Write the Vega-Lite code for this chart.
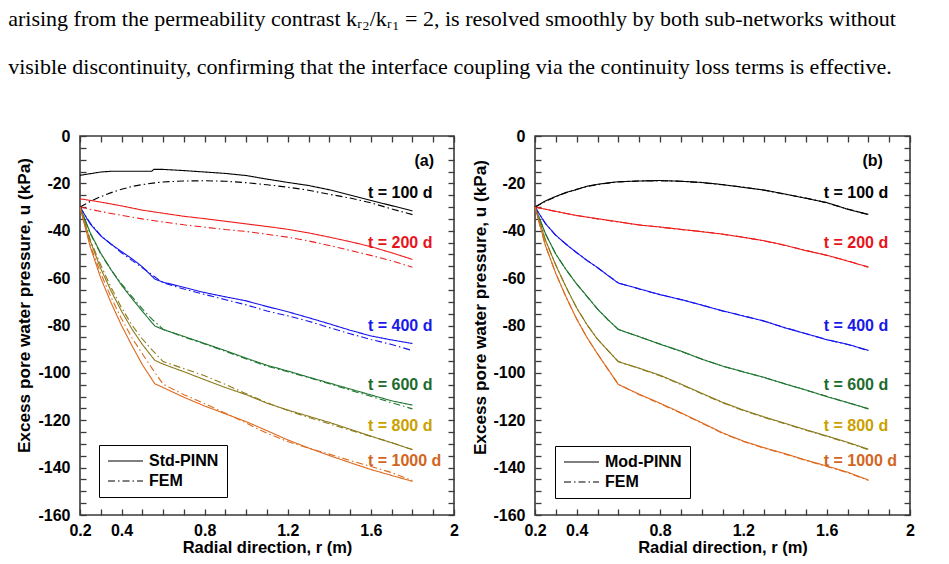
{
"$schema": "https://vega.github.io/schema/vega-lite/v6.json",
"background": "white",
"padding": {"left": 8, "top": 8, "right": 30, "bottom": 6},
"title": {"text": ["arising from the permeability contrast kᵣ₂/kᵣ₁ = 2, is resolved smoothly by both sub-networks without", "visible discontinuity, confirming that the interface coupling via the continuity loss terms is effective."], "anchor": "start", "frame": "bounds", "font": "Liberation Serif", "fontSize": 22, "fontWeight": "normal", "color": "black", "lineHeight": 48, "offset": 48, "dx": -6},
"datasets": {
"labels": [
{"t":"100 d","txt":"t = 100 d","r":1.586,"u":-24.0},
{"t":"200 d","txt":"t = 200 d","r":1.586,"u":-45.0},
{"t":"400 d","txt":"t = 400 d","r":1.586,"u":-80.0},
{"t":"600 d","txt":"t = 600 d","r":1.586,"u":-105.3},
{"t":"800 d","txt":"t = 800 d","r":1.586,"u":-122.4},
{"t":"1000 d","txt":"t = 1000 d","r":1.586,"u":-137.0}
],
"curves": [
{"p":"ab","m":"FEM","t":"100 d","r":0.2,"u":-30},{"p":"ab","m":"FEM","t":"100 d","r":0.25,"u":-27.6},{"p":"ab","m":"FEM","t":"100 d","r":0.3,"u":-25.6},{"p":"ab","m":"FEM","t":"100 d","r":0.35,"u":-23.9},{"p":"ab","m":"FEM","t":"100 d","r":0.4,"u":-22.5},{"p":"ab","m":"FEM","t":"100 d","r":0.45,"u":-21.3},{"p":"ab","m":"FEM","t":"100 d","r":0.5,"u":-20.5},{"p":"ab","m":"FEM","t":"100 d","r":0.55,"u":-19.9},{"p":"ab","m":"FEM","t":"100 d","r":0.6,"u":-19.4},{"p":"ab","m":"FEM","t":"100 d","r":0.7,"u":-19.0},{"p":"ab","m":"FEM","t":"100 d","r":0.8,"u":-18.9},{"p":"ab","m":"FEM","t":"100 d","r":0.9,"u":-19.1},{"p":"ab","m":"FEM","t":"100 d","r":1.0,"u":-19.7},{"p":"ab","m":"FEM","t":"100 d","r":1.1,"u":-20.6},{"p":"ab","m":"FEM","t":"100 d","r":1.2,"u":-21.6},{"p":"ab","m":"FEM","t":"100 d","r":1.3,"u":-22.9},{"p":"ab","m":"FEM","t":"100 d","r":1.4,"u":-24.6},{"p":"ab","m":"FEM","t":"100 d","r":1.5,"u":-26.2},{"p":"ab","m":"FEM","t":"100 d","r":1.6,"u":-28.2},{"p":"ab","m":"FEM","t":"100 d","r":1.7,"u":-30.8},{"p":"ab","m":"FEM","t":"100 d","r":1.8,"u":-33.2},
{"p":"ab","m":"FEM","t":"200 d","r":0.2,"u":-30},{"p":"ab","m":"FEM","t":"200 d","r":0.3,"u":-31.9},{"p":"ab","m":"FEM","t":"200 d","r":0.4,"u":-33.5},{"p":"ab","m":"FEM","t":"200 d","r":0.5,"u":-35.0},{"p":"ab","m":"FEM","t":"200 d","r":0.6,"u":-36.3},{"p":"ab","m":"FEM","t":"200 d","r":0.7,"u":-37.5},{"p":"ab","m":"FEM","t":"200 d","r":0.8,"u":-38.5},{"p":"ab","m":"FEM","t":"200 d","r":0.9,"u":-39.5},{"p":"ab","m":"FEM","t":"200 d","r":1.0,"u":-40.3},{"p":"ab","m":"FEM","t":"200 d","r":1.1,"u":-41.5},{"p":"ab","m":"FEM","t":"200 d","r":1.2,"u":-42.7},{"p":"ab","m":"FEM","t":"200 d","r":1.3,"u":-44.3},{"p":"ab","m":"FEM","t":"200 d","r":1.4,"u":-46.2},{"p":"ab","m":"FEM","t":"200 d","r":1.5,"u":-48.3},{"p":"ab","m":"FEM","t":"200 d","r":1.6,"u":-50.4},{"p":"ab","m":"FEM","t":"200 d","r":1.7,"u":-52.7},{"p":"ab","m":"FEM","t":"200 d","r":1.8,"u":-55.4},
{"p":"ab","m":"FEM","t":"400 d","r":0.2,"u":-30},{"p":"ab","m":"FEM","t":"400 d","r":0.25,"u":-36.9},{"p":"ab","m":"FEM","t":"400 d","r":0.3,"u":-42.0},{"p":"ab","m":"FEM","t":"400 d","r":0.35,"u":-45.7},{"p":"ab","m":"FEM","t":"400 d","r":0.4,"u":-49.3},{"p":"ab","m":"FEM","t":"400 d","r":0.45,"u":-52.5},{"p":"ab","m":"FEM","t":"400 d","r":0.5,"u":-55.6},{"p":"ab","m":"FEM","t":"400 d","r":0.55,"u":-58.8},{"p":"ab","m":"FEM","t":"400 d","r":0.6,"u":-62.0},{"p":"ab","m":"FEM","t":"400 d","r":0.7,"u":-64.6},{"p":"ab","m":"FEM","t":"400 d","r":0.8,"u":-66.9},{"p":"ab","m":"FEM","t":"400 d","r":0.9,"u":-69.1},{"p":"ab","m":"FEM","t":"400 d","r":1.0,"u":-71.3},{"p":"ab","m":"FEM","t":"400 d","r":1.1,"u":-73.9},{"p":"ab","m":"FEM","t":"400 d","r":1.2,"u":-75.9},{"p":"ab","m":"FEM","t":"400 d","r":1.3,"u":-78.2},{"p":"ab","m":"FEM","t":"400 d","r":1.4,"u":-80.9},{"p":"ab","m":"FEM","t":"400 d","r":1.5,"u":-83.5},{"p":"ab","m":"FEM","t":"400 d","r":1.6,"u":-85.9},{"p":"ab","m":"FEM","t":"400 d","r":1.7,"u":-88.0},{"p":"ab","m":"FEM","t":"400 d","r":1.8,"u":-90.6},
{"p":"ab","m":"FEM","t":"600 d","r":0.2,"u":-30},{"p":"ab","m":"FEM","t":"600 d","r":0.25,"u":-41.3},{"p":"ab","m":"FEM","t":"600 d","r":0.3,"u":-49.8},{"p":"ab","m":"FEM","t":"600 d","r":0.35,"u":-56.6},{"p":"ab","m":"FEM","t":"600 d","r":0.4,"u":-62.4},{"p":"ab","m":"FEM","t":"600 d","r":0.45,"u":-67.8},{"p":"ab","m":"FEM","t":"600 d","r":0.5,"u":-73.0},{"p":"ab","m":"FEM","t":"600 d","r":0.55,"u":-77.6},{"p":"ab","m":"FEM","t":"600 d","r":0.6,"u":-81.6},{"p":"ab","m":"FEM","t":"600 d","r":0.7,"u":-84.8},{"p":"ab","m":"FEM","t":"600 d","r":0.8,"u":-87.8},{"p":"ab","m":"FEM","t":"600 d","r":0.9,"u":-90.9},{"p":"ab","m":"FEM","t":"600 d","r":1.0,"u":-94.1},{"p":"ab","m":"FEM","t":"600 d","r":1.1,"u":-97.2},{"p":"ab","m":"FEM","t":"600 d","r":1.2,"u":-99.5},{"p":"ab","m":"FEM","t":"600 d","r":1.3,"u":-102.0},{"p":"ab","m":"FEM","t":"600 d","r":1.4,"u":-104.6},{"p":"ab","m":"FEM","t":"600 d","r":1.5,"u":-107.3},{"p":"ab","m":"FEM","t":"600 d","r":1.6,"u":-109.9},{"p":"ab","m":"FEM","t":"600 d","r":1.7,"u":-112.6},{"p":"ab","m":"FEM","t":"600 d","r":1.8,"u":-115.2},
{"p":"ab","m":"FEM","t":"800 d","r":0.2,"u":-30},{"p":"ab","m":"FEM","t":"800 d","r":0.25,"u":-44.0},{"p":"ab","m":"FEM","t":"800 d","r":0.3,"u":-54.5},{"p":"ab","m":"FEM","t":"800 d","r":0.35,"u":-64.0},{"p":"ab","m":"FEM","t":"800 d","r":0.4,"u":-72.5},{"p":"ab","m":"FEM","t":"800 d","r":0.45,"u":-79.8},{"p":"ab","m":"FEM","t":"800 d","r":0.5,"u":-85.7},{"p":"ab","m":"FEM","t":"800 d","r":0.55,"u":-90.6},{"p":"ab","m":"FEM","t":"800 d","r":0.6,"u":-95.2},{"p":"ab","m":"FEM","t":"800 d","r":0.7,"u":-98.2},{"p":"ab","m":"FEM","t":"800 d","r":0.8,"u":-101.2},{"p":"ab","m":"FEM","t":"800 d","r":0.9,"u":-104.9},{"p":"ab","m":"FEM","t":"800 d","r":1.0,"u":-108.8},{"p":"ab","m":"FEM","t":"800 d","r":1.1,"u":-112.6},{"p":"ab","m":"FEM","t":"800 d","r":1.2,"u":-115.9},{"p":"ab","m":"FEM","t":"800 d","r":1.3,"u":-118.8},{"p":"ab","m":"FEM","t":"800 d","r":1.4,"u":-121.5},{"p":"ab","m":"FEM","t":"800 d","r":1.5,"u":-124.2},{"p":"ab","m":"FEM","t":"800 d","r":1.6,"u":-126.8},{"p":"ab","m":"FEM","t":"800 d","r":1.7,"u":-129.5},{"p":"ab","m":"FEM","t":"800 d","r":1.8,"u":-132.4},
{"p":"ab","m":"FEM","t":"1000 d","r":0.2,"u":-30},{"p":"ab","m":"FEM","t":"1000 d","r":0.25,"u":-46.3},{"p":"ab","m":"FEM","t":"1000 d","r":0.3,"u":-58.0},{"p":"ab","m":"FEM","t":"1000 d","r":0.35,"u":-68.2},{"p":"ab","m":"FEM","t":"1000 d","r":0.4,"u":-77.2},{"p":"ab","m":"FEM","t":"1000 d","r":0.45,"u":-85.2},{"p":"ab","m":"FEM","t":"1000 d","r":0.5,"u":-91.9},{"p":"ab","m":"FEM","t":"1000 d","r":0.55,"u":-98.5},{"p":"ab","m":"FEM","t":"1000 d","r":0.6,"u":-104.8},{"p":"ab","m":"FEM","t":"1000 d","r":0.7,"u":-109.2},{"p":"ab","m":"FEM","t":"1000 d","r":0.8,"u":-113.0},{"p":"ab","m":"FEM","t":"1000 d","r":0.9,"u":-117.0},{"p":"ab","m":"FEM","t":"1000 d","r":1.0,"u":-121.2},{"p":"ab","m":"FEM","t":"1000 d","r":1.1,"u":-125.5},{"p":"ab","m":"FEM","t":"1000 d","r":1.2,"u":-129.0},{"p":"ab","m":"FEM","t":"1000 d","r":1.3,"u":-131.8},{"p":"ab","m":"FEM","t":"1000 d","r":1.4,"u":-134.3},{"p":"ab","m":"FEM","t":"1000 d","r":1.5,"u":-137.0},{"p":"ab","m":"FEM","t":"1000 d","r":1.6,"u":-139.5},{"p":"ab","m":"FEM","t":"1000 d","r":1.7,"u":-142.1},{"p":"ab","m":"FEM","t":"1000 d","r":1.8,"u":-145.4},

{"p":"a","m":"Std-PINN","t":"100 d","r":0.2,"u":-16.6},{"p":"a","m":"Std-PINN","t":"100 d","r":0.25,"u":-15.9},{"p":"a","m":"Std-PINN","t":"100 d","r":0.3,"u":-15.2},{"p":"a","m":"Std-PINN","t":"100 d","r":0.35,"u":-14.9},{"p":"a","m":"Std-PINN","t":"100 d","r":0.4,"u":-14.9},{"p":"a","m":"Std-PINN","t":"100 d","r":0.45,"u":-14.9},{"p":"a","m":"Std-PINN","t":"100 d","r":0.5,"u":-14.9},{"p":"a","m":"Std-PINN","t":"100 d","r":0.545,"u":-14.9},{"p":"a","m":"Std-PINN","t":"100 d","r":0.555,"u":-14.1},{"p":"a","m":"Std-PINN","t":"100 d","r":0.6,"u":-14.1},{"p":"a","m":"Std-PINN","t":"100 d","r":0.7,"u":-14.6},{"p":"a","m":"Std-PINN","t":"100 d","r":0.8,"u":-15.2},{"p":"a","m":"Std-PINN","t":"100 d","r":0.9,"u":-15.8},{"p":"a","m":"Std-PINN","t":"100 d","r":1.0,"u":-16.7},{"p":"a","m":"Std-PINN","t":"100 d","r":1.1,"u":-18.2},{"p":"a","m":"Std-PINN","t":"100 d","r":1.2,"u":-19.6},{"p":"a","m":"Std-PINN","t":"100 d","r":1.3,"u":-20.9},{"p":"a","m":"Std-PINN","t":"100 d","r":1.4,"u":-22.7},{"p":"a","m":"Std-PINN","t":"100 d","r":1.5,"u":-24.9},{"p":"a","m":"Std-PINN","t":"100 d","r":1.6,"u":-27.2},{"p":"a","m":"Std-PINN","t":"100 d","r":1.7,"u":-29.4},{"p":"a","m":"Std-PINN","t":"100 d","r":1.8,"u":-31.6},
{"p":"a","m":"Std-PINN","t":"200 d","r":0.2,"u":-26.5},{"p":"a","m":"Std-PINN","t":"200 d","r":0.3,"u":-27.9},{"p":"a","m":"Std-PINN","t":"200 d","r":0.4,"u":-29.5},{"p":"a","m":"Std-PINN","t":"200 d","r":0.5,"u":-31.3},{"p":"a","m":"Std-PINN","t":"200 d","r":0.6,"u":-32.6},{"p":"a","m":"Std-PINN","t":"200 d","r":0.7,"u":-33.9},{"p":"a","m":"Std-PINN","t":"200 d","r":0.8,"u":-34.9},{"p":"a","m":"Std-PINN","t":"200 d","r":0.9,"u":-36.0},{"p":"a","m":"Std-PINN","t":"200 d","r":1.0,"u":-37.1},{"p":"a","m":"Std-PINN","t":"200 d","r":1.1,"u":-38.2},{"p":"a","m":"Std-PINN","t":"200 d","r":1.2,"u":-39.4},{"p":"a","m":"Std-PINN","t":"200 d","r":1.3,"u":-40.9},{"p":"a","m":"Std-PINN","t":"200 d","r":1.4,"u":-42.7},{"p":"a","m":"Std-PINN","t":"200 d","r":1.5,"u":-44.6},{"p":"a","m":"Std-PINN","t":"200 d","r":1.6,"u":-46.7},{"p":"a","m":"Std-PINN","t":"200 d","r":1.7,"u":-49.3},{"p":"a","m":"Std-PINN","t":"200 d","r":1.8,"u":-52.1},
{"p":"a","m":"Std-PINN","t":"400 d","r":0.2,"u":-30},{"p":"a","m":"Std-PINN","t":"400 d","r":0.25,"u":-37.2},{"p":"a","m":"Std-PINN","t":"400 d","r":0.3,"u":-42.2},{"p":"a","m":"Std-PINN","t":"400 d","r":0.35,"u":-45.7},{"p":"a","m":"Std-PINN","t":"400 d","r":0.4,"u":-48.8},{"p":"a","m":"Std-PINN","t":"400 d","r":0.45,"u":-51.8},{"p":"a","m":"Std-PINN","t":"400 d","r":0.5,"u":-55.2},{"p":"a","m":"Std-PINN","t":"400 d","r":0.56,"u":-60.4},{"p":"a","m":"Std-PINN","t":"400 d","r":0.6,"u":-61.7},{"p":"a","m":"Std-PINN","t":"400 d","r":0.7,"u":-63.9},{"p":"a","m":"Std-PINN","t":"400 d","r":0.8,"u":-66.1},{"p":"a","m":"Std-PINN","t":"400 d","r":0.9,"u":-67.9},{"p":"a","m":"Std-PINN","t":"400 d","r":1.0,"u":-69.6},{"p":"a","m":"Std-PINN","t":"400 d","r":1.1,"u":-72.0},{"p":"a","m":"Std-PINN","t":"400 d","r":1.2,"u":-74.2},{"p":"a","m":"Std-PINN","t":"400 d","r":1.3,"u":-76.7},{"p":"a","m":"Std-PINN","t":"400 d","r":1.4,"u":-79.3},{"p":"a","m":"Std-PINN","t":"400 d","r":1.5,"u":-82.0},{"p":"a","m":"Std-PINN","t":"400 d","r":1.6,"u":-84.4},{"p":"a","m":"Std-PINN","t":"400 d","r":1.7,"u":-86.1},{"p":"a","m":"Std-PINN","t":"400 d","r":1.8,"u":-87.6},
{"p":"a","m":"Std-PINN","t":"600 d","r":0.2,"u":-30},{"p":"a","m":"Std-PINN","t":"600 d","r":0.25,"u":-41.0},{"p":"a","m":"Std-PINN","t":"600 d","r":0.3,"u":-49.5},{"p":"a","m":"Std-PINN","t":"600 d","r":0.35,"u":-56.5},{"p":"a","m":"Std-PINN","t":"600 d","r":0.4,"u":-63.0},{"p":"a","m":"Std-PINN","t":"600 d","r":0.45,"u":-68.6},{"p":"a","m":"Std-PINN","t":"600 d","r":0.5,"u":-74.0},{"p":"a","m":"Std-PINN","t":"600 d","r":0.56,"u":-80.2},{"p":"a","m":"Std-PINN","t":"600 d","r":0.6,"u":-81.7},{"p":"a","m":"Std-PINN","t":"600 d","r":0.7,"u":-84.6},{"p":"a","m":"Std-PINN","t":"600 d","r":0.8,"u":-87.6},{"p":"a","m":"Std-PINN","t":"600 d","r":0.9,"u":-90.6},{"p":"a","m":"Std-PINN","t":"600 d","r":1.0,"u":-93.8},{"p":"a","m":"Std-PINN","t":"600 d","r":1.1,"u":-96.8},{"p":"a","m":"Std-PINN","t":"600 d","r":1.2,"u":-99.2},{"p":"a","m":"Std-PINN","t":"600 d","r":1.3,"u":-101.8},{"p":"a","m":"Std-PINN","t":"600 d","r":1.4,"u":-104.3},{"p":"a","m":"Std-PINN","t":"600 d","r":1.5,"u":-106.8},{"p":"a","m":"Std-PINN","t":"600 d","r":1.6,"u":-109.3},{"p":"a","m":"Std-PINN","t":"600 d","r":1.7,"u":-111.8},{"p":"a","m":"Std-PINN","t":"600 d","r":1.8,"u":-113.6},
{"p":"a","m":"Std-PINN","t":"800 d","r":0.2,"u":-30},{"p":"a","m":"Std-PINN","t":"800 d","r":0.25,"u":-44.5},{"p":"a","m":"Std-PINN","t":"800 d","r":0.3,"u":-56.0},{"p":"a","m":"Std-PINN","t":"800 d","r":0.35,"u":-65.5},{"p":"a","m":"Std-PINN","t":"800 d","r":0.4,"u":-74.0},{"p":"a","m":"Std-PINN","t":"800 d","r":0.45,"u":-81.5},{"p":"a","m":"Std-PINN","t":"800 d","r":0.5,"u":-88.0},{"p":"a","m":"Std-PINN","t":"800 d","r":0.56,"u":-94.7},{"p":"a","m":"Std-PINN","t":"800 d","r":0.6,"u":-96.3},{"p":"a","m":"Std-PINN","t":"800 d","r":0.7,"u":-99.5},{"p":"a","m":"Std-PINN","t":"800 d","r":0.8,"u":-102.9},{"p":"a","m":"Std-PINN","t":"800 d","r":0.9,"u":-106.2},{"p":"a","m":"Std-PINN","t":"800 d","r":1.0,"u":-109.2},{"p":"a","m":"Std-PINN","t":"800 d","r":1.1,"u":-112.8},{"p":"a","m":"Std-PINN","t":"800 d","r":1.2,"u":-115.7},{"p":"a","m":"Std-PINN","t":"800 d","r":1.3,"u":-118.3},{"p":"a","m":"Std-PINN","t":"800 d","r":1.4,"u":-120.9},{"p":"a","m":"Std-PINN","t":"800 d","r":1.5,"u":-123.8},{"p":"a","m":"Std-PINN","t":"800 d","r":1.6,"u":-126.7},{"p":"a","m":"Std-PINN","t":"800 d","r":1.7,"u":-129.5},{"p":"a","m":"Std-PINN","t":"800 d","r":1.8,"u":-132.4},
{"p":"a","m":"Std-PINN","t":"1000 d","r":0.2,"u":-30},{"p":"a","m":"Std-PINN","t":"1000 d","r":0.25,"u":-47.0},{"p":"a","m":"Std-PINN","t":"1000 d","r":0.3,"u":-60.0},{"p":"a","m":"Std-PINN","t":"1000 d","r":0.35,"u":-70.5},{"p":"a","m":"Std-PINN","t":"1000 d","r":0.4,"u":-80.0},{"p":"a","m":"Std-PINN","t":"1000 d","r":0.45,"u":-88.5},{"p":"a","m":"Std-PINN","t":"1000 d","r":0.5,"u":-96.5},{"p":"a","m":"Std-PINN","t":"1000 d","r":0.56,"u":-104.6},{"p":"a","m":"Std-PINN","t":"1000 d","r":0.6,"u":-106.2},{"p":"a","m":"Std-PINN","t":"1000 d","r":0.7,"u":-110.3},{"p":"a","m":"Std-PINN","t":"1000 d","r":0.8,"u":-114.0},{"p":"a","m":"Std-PINN","t":"1000 d","r":0.9,"u":-117.3},{"p":"a","m":"Std-PINN","t":"1000 d","r":1.0,"u":-120.6},{"p":"a","m":"Std-PINN","t":"1000 d","r":1.1,"u":-124.4},{"p":"a","m":"Std-PINN","t":"1000 d","r":1.2,"u":-128.3},{"p":"a","m":"Std-PINN","t":"1000 d","r":1.3,"u":-131.7},{"p":"a","m":"Std-PINN","t":"1000 d","r":1.4,"u":-134.9},{"p":"a","m":"Std-PINN","t":"1000 d","r":1.5,"u":-137.9},{"p":"a","m":"Std-PINN","t":"1000 d","r":1.6,"u":-140.8},{"p":"a","m":"Std-PINN","t":"1000 d","r":1.7,"u":-143.3},{"p":"a","m":"Std-PINN","t":"1000 d","r":1.8,"u":-145.8},

{"p":"b","m":"Mod-PINN","t":"100 d","r":0.2,"u":-30},{"p":"b","m":"Mod-PINN","t":"100 d","r":0.25,"u":-27.4},{"p":"b","m":"Mod-PINN","t":"100 d","r":0.3,"u":-25.5},{"p":"b","m":"Mod-PINN","t":"100 d","r":0.35,"u":-23.8},{"p":"b","m":"Mod-PINN","t":"100 d","r":0.4,"u":-22.6},{"p":"b","m":"Mod-PINN","t":"100 d","r":0.45,"u":-21.2},{"p":"b","m":"Mod-PINN","t":"100 d","r":0.5,"u":-20.4},{"p":"b","m":"Mod-PINN","t":"100 d","r":0.55,"u":-19.8},{"p":"b","m":"Mod-PINN","t":"100 d","r":0.6,"u":-19.3},{"p":"b","m":"Mod-PINN","t":"100 d","r":0.7,"u":-19.0},{"p":"b","m":"Mod-PINN","t":"100 d","r":0.8,"u":-18.8},{"p":"b","m":"Mod-PINN","t":"100 d","r":0.9,"u":-19.1},{"p":"b","m":"Mod-PINN","t":"100 d","r":1.0,"u":-19.6},{"p":"b","m":"Mod-PINN","t":"100 d","r":1.1,"u":-20.5},{"p":"b","m":"Mod-PINN","t":"100 d","r":1.2,"u":-21.7},{"p":"b","m":"Mod-PINN","t":"100 d","r":1.3,"u":-22.8},{"p":"b","m":"Mod-PINN","t":"100 d","r":1.4,"u":-24.5},{"p":"b","m":"Mod-PINN","t":"100 d","r":1.5,"u":-26.3},{"p":"b","m":"Mod-PINN","t":"100 d","r":1.6,"u":-28.1},{"p":"b","m":"Mod-PINN","t":"100 d","r":1.7,"u":-30.9},{"p":"b","m":"Mod-PINN","t":"100 d","r":1.8,"u":-33.1},
{"p":"b","m":"Mod-PINN","t":"200 d","r":0.2,"u":-30},{"p":"b","m":"Mod-PINN","t":"200 d","r":0.3,"u":-31.8},{"p":"b","m":"Mod-PINN","t":"200 d","r":0.4,"u":-33.6},{"p":"b","m":"Mod-PINN","t":"200 d","r":0.5,"u":-34.9},{"p":"b","m":"Mod-PINN","t":"200 d","r":0.6,"u":-36.2},{"p":"b","m":"Mod-PINN","t":"200 d","r":0.7,"u":-37.6},{"p":"b","m":"Mod-PINN","t":"200 d","r":0.8,"u":-38.4},{"p":"b","m":"Mod-PINN","t":"200 d","r":0.9,"u":-39.4},{"p":"b","m":"Mod-PINN","t":"200 d","r":1.0,"u":-40.4},{"p":"b","m":"Mod-PINN","t":"200 d","r":1.1,"u":-41.4},{"p":"b","m":"Mod-PINN","t":"200 d","r":1.2,"u":-42.8},{"p":"b","m":"Mod-PINN","t":"200 d","r":1.3,"u":-44.2},{"p":"b","m":"Mod-PINN","t":"200 d","r":1.4,"u":-46.1},{"p":"b","m":"Mod-PINN","t":"200 d","r":1.5,"u":-48.4},{"p":"b","m":"Mod-PINN","t":"200 d","r":1.6,"u":-50.3},{"p":"b","m":"Mod-PINN","t":"200 d","r":1.7,"u":-52.8},{"p":"b","m":"Mod-PINN","t":"200 d","r":1.8,"u":-55.3},
{"p":"b","m":"Mod-PINN","t":"400 d","r":0.2,"u":-30},{"p":"b","m":"Mod-PINN","t":"400 d","r":0.25,"u":-37.0},{"p":"b","m":"Mod-PINN","t":"400 d","r":0.3,"u":-41.9},{"p":"b","m":"Mod-PINN","t":"400 d","r":0.35,"u":-45.8},{"p":"b","m":"Mod-PINN","t":"400 d","r":0.4,"u":-49.2},{"p":"b","m":"Mod-PINN","t":"400 d","r":0.45,"u":-52.6},{"p":"b","m":"Mod-PINN","t":"400 d","r":0.5,"u":-55.5},{"p":"b","m":"Mod-PINN","t":"400 d","r":0.55,"u":-58.9},{"p":"b","m":"Mod-PINN","t":"400 d","r":0.6,"u":-62.1},{"p":"b","m":"Mod-PINN","t":"400 d","r":0.7,"u":-64.5},{"p":"b","m":"Mod-PINN","t":"400 d","r":0.8,"u":-67.0},{"p":"b","m":"Mod-PINN","t":"400 d","r":0.9,"u":-69.0},{"p":"b","m":"Mod-PINN","t":"400 d","r":1.0,"u":-71.4},{"p":"b","m":"Mod-PINN","t":"400 d","r":1.1,"u":-73.8},{"p":"b","m":"Mod-PINN","t":"400 d","r":1.2,"u":-76.0},{"p":"b","m":"Mod-PINN","t":"400 d","r":1.3,"u":-78.1},{"p":"b","m":"Mod-PINN","t":"400 d","r":1.4,"u":-81.0},{"p":"b","m":"Mod-PINN","t":"400 d","r":1.5,"u":-83.4},{"p":"b","m":"Mod-PINN","t":"400 d","r":1.6,"u":-86.0},{"p":"b","m":"Mod-PINN","t":"400 d","r":1.7,"u":-87.9},{"p":"b","m":"Mod-PINN","t":"400 d","r":1.8,"u":-90.5},
{"p":"b","m":"Mod-PINN","t":"600 d","r":0.2,"u":-30},{"p":"b","m":"Mod-PINN","t":"600 d","r":0.25,"u":-41.2},{"p":"b","m":"Mod-PINN","t":"600 d","r":0.3,"u":-49.9},{"p":"b","m":"Mod-PINN","t":"600 d","r":0.35,"u":-56.5},{"p":"b","m":"Mod-PINN","t":"600 d","r":0.4,"u":-62.5},{"p":"b","m":"Mod-PINN","t":"600 d","r":0.45,"u":-67.7},{"p":"b","m":"Mod-PINN","t":"600 d","r":0.5,"u":-73.1},{"p":"b","m":"Mod-PINN","t":"600 d","r":0.55,"u":-77.5},{"p":"b","m":"Mod-PINN","t":"600 d","r":0.6,"u":-81.7},{"p":"b","m":"Mod-PINN","t":"600 d","r":0.7,"u":-84.7},{"p":"b","m":"Mod-PINN","t":"600 d","r":0.8,"u":-87.9},{"p":"b","m":"Mod-PINN","t":"600 d","r":0.9,"u":-90.8},{"p":"b","m":"Mod-PINN","t":"600 d","r":1.0,"u":-94.2},{"p":"b","m":"Mod-PINN","t":"600 d","r":1.1,"u":-97.1},{"p":"b","m":"Mod-PINN","t":"600 d","r":1.2,"u":-99.6},{"p":"b","m":"Mod-PINN","t":"600 d","r":1.3,"u":-101.9},{"p":"b","m":"Mod-PINN","t":"600 d","r":1.4,"u":-104.7},{"p":"b","m":"Mod-PINN","t":"600 d","r":1.5,"u":-107.2},{"p":"b","m":"Mod-PINN","t":"600 d","r":1.6,"u":-110.0},{"p":"b","m":"Mod-PINN","t":"600 d","r":1.7,"u":-112.5},{"p":"b","m":"Mod-PINN","t":"600 d","r":1.8,"u":-115.1},
{"p":"b","m":"Mod-PINN","t":"800 d","r":0.2,"u":-30},{"p":"b","m":"Mod-PINN","t":"800 d","r":0.25,"u":-43.9},{"p":"b","m":"Mod-PINN","t":"800 d","r":0.3,"u":-54.6},{"p":"b","m":"Mod-PINN","t":"800 d","r":0.35,"u":-63.9},{"p":"b","m":"Mod-PINN","t":"800 d","r":0.4,"u":-72.6},{"p":"b","m":"Mod-PINN","t":"800 d","r":0.45,"u":-79.7},{"p":"b","m":"Mod-PINN","t":"800 d","r":0.5,"u":-85.8},{"p":"b","m":"Mod-PINN","t":"800 d","r":0.55,"u":-90.5},{"p":"b","m":"Mod-PINN","t":"800 d","r":0.6,"u":-95.3},{"p":"b","m":"Mod-PINN","t":"800 d","r":0.7,"u":-98.0},{"p":"b","m":"Mod-PINN","t":"800 d","r":0.8,"u":-101.0},{"p":"b","m":"Mod-PINN","t":"800 d","r":0.9,"u":-104.7},{"p":"b","m":"Mod-PINN","t":"800 d","r":1.0,"u":-108.6},{"p":"b","m":"Mod-PINN","t":"800 d","r":1.1,"u":-112.4},{"p":"b","m":"Mod-PINN","t":"800 d","r":1.2,"u":-115.7},{"p":"b","m":"Mod-PINN","t":"800 d","r":1.3,"u":-118.6},{"p":"b","m":"Mod-PINN","t":"800 d","r":1.4,"u":-121.3},{"p":"b","m":"Mod-PINN","t":"800 d","r":1.5,"u":-124.0},{"p":"b","m":"Mod-PINN","t":"800 d","r":1.6,"u":-126.6},{"p":"b","m":"Mod-PINN","t":"800 d","r":1.7,"u":-129.3},{"p":"b","m":"Mod-PINN","t":"800 d","r":1.8,"u":-132.2},
{"p":"b","m":"Mod-PINN","t":"1000 d","r":0.2,"u":-30},{"p":"b","m":"Mod-PINN","t":"1000 d","r":0.25,"u":-46.2},{"p":"b","m":"Mod-PINN","t":"1000 d","r":0.3,"u":-58.1},{"p":"b","m":"Mod-PINN","t":"1000 d","r":0.35,"u":-68.1},{"p":"b","m":"Mod-PINN","t":"1000 d","r":0.4,"u":-77.3},{"p":"b","m":"Mod-PINN","t":"1000 d","r":0.45,"u":-85.1},{"p":"b","m":"Mod-PINN","t":"1000 d","r":0.5,"u":-92.0},{"p":"b","m":"Mod-PINN","t":"1000 d","r":0.55,"u":-98.4},{"p":"b","m":"Mod-PINN","t":"1000 d","r":0.6,"u":-104.9},{"p":"b","m":"Mod-PINN","t":"1000 d","r":0.7,"u":-109.0},{"p":"b","m":"Mod-PINN","t":"1000 d","r":0.8,"u":-112.8},{"p":"b","m":"Mod-PINN","t":"1000 d","r":0.9,"u":-116.8},{"p":"b","m":"Mod-PINN","t":"1000 d","r":1.0,"u":-121.0},{"p":"b","m":"Mod-PINN","t":"1000 d","r":1.1,"u":-125.3},{"p":"b","m":"Mod-PINN","t":"1000 d","r":1.2,"u":-128.8},{"p":"b","m":"Mod-PINN","t":"1000 d","r":1.3,"u":-131.6},{"p":"b","m":"Mod-PINN","t":"1000 d","r":1.4,"u":-134.1},{"p":"b","m":"Mod-PINN","t":"1000 d","r":1.5,"u":-136.8},{"p":"b","m":"Mod-PINN","t":"1000 d","r":1.6,"u":-139.3},{"p":"b","m":"Mod-PINN","t":"1000 d","r":1.7,"u":-141.9},{"p":"b","m":"Mod-PINN","t":"1000 d","r":1.8,"u":-145.2}
]
},
"hconcat": [
{
"width": 374, "height": 379,
"layer": [
{
"data": {"name": "curves"},
"transform": [{"filter": "indexof(datum.p, 'a') >= 0"}],
"mark": {"type": "line", "strokeWidth": 1.1},
"encoding": {
"x": {"field": "r", "type": "quantitative", "scale": {"domain": [0.2, 2], "nice": false, "zero": false},
"axis": {"orient": "bottom", "values": [0.2,0.3,0.4,0.5,0.6,0.7,0.8,0.9,1,1.1,1.2,1.3,1.4,1.5,1.6,1.7,1.8,1.9,2], "format": ".1~f", "labelExpr": "indexof(['0.2','0.4','0.8','1.2','1.6','2'], datum.label) >= 0 ? datum.label : ''", "labelPadding": 13, "labelFlush": false, "labelOverlap": false, "title": "Radial direction, r (m)", "titleFontSize": 16.5, "titleY": 37, "titleBaseline": "alphabetic"}},
"y": {"field": "u", "type": "quantitative", "scale": {"domain": [-160, 0], "nice": false, "zero": false},
"axis": {"orient": "left", "values": [-160,-155,-150,-145,-140,-135,-130,-125,-120,-115,-110,-105,-100,-95,-90,-85,-80,-75,-70,-65,-60,-55,-50,-45,-40,-35,-30,-25,-20,-15,-10,-5,0], "labelExpr": "datum.value % 20 == 0 ? '' + datum.value : ''", "labelPadding": 16, "labelOverlap": false, "title": "Excess pore water pressure, u (kPa)", "titleFontSize": 17.2, "titleAngle": 270, "titleX": -51, "titleY": 169, "titleAlign": "center", "titleBaseline": "alphabetic"}},
"color": {"field": "t", "type": "nominal", "scale": {"domain": ["100 d","200 d","400 d","600 d","800 d","1000 d"], "range": ["#000000","#ee1c1c","#1515ee","#1f7530","#8c7a1c","#dc6a1e"]}, "legend": null},
"strokeDash": {"field": "m", "type": "nominal", "scale": {"domain": ["Std-PINN","FEM"], "range": [[1,0],[7,3,1.5,3]]},
"legend": {"orient": "none", "legendX": 19, "legendY": 309, "title": null, "symbolType": "stroke", "symbolSize": 1225, "clipHeight": 16, "symbolStrokeColor": "black", "symbolStrokeWidth": 1.1, "labelFont": "Liberation Sans", "labelFontSize": 16, "labelFontWeight": "bold", "labelColor": "black", "strokeColor": "black", "fillColor": "white", "padding": 8, "rowPadding": 4, "labelOffset": 5}}
}
},
{
"data": {"name": "labels"},
"mark": {"type": "text", "align": "left", "baseline": "middle", "font": "Liberation Sans", "fontSize": 16, "fontWeight": "bold"},
"encoding": {
"x": {"field": "r", "type": "quantitative", "scale": {"domain": [0.2, 2], "nice": false, "zero": false},
"axis": {"orient": "top", "values": [0.2,0.3,0.4,0.5,0.6,0.7,0.8,0.9,1,1.1,1.2,1.3,1.4,1.5,1.6,1.7,1.8,1.9,2], "labels": false, "title": null}},
"y": {"field": "u", "type": "quantitative", "scale": {"domain": [-160, 0], "nice": false, "zero": false},
"axis": {"orient": "right", "values": [-160,-155,-150,-145,-140,-135,-130,-125,-120,-115,-110,-105,-100,-95,-90,-85,-80,-75,-70,-65,-60,-55,-50,-45,-40,-35,-30,-25,-20,-15,-10,-5,0], "labels": false, "title": null}},
"text": {"field": "txt"},
"color": {"field": "t", "type": "nominal", "scale": {"domain": ["100 d","200 d","400 d","600 d","800 d","1000 d"], "range": ["#000000","#e8141c","#1a1ae8","#1e6b2e","#c9a100","#d2651e"]}, "legend": null}
}
},
{
"data": {"values": [{"txt": "(a)", "r": 1.904, "u": -10.6}]},
"mark": {"type": "text", "align": "right", "baseline": "middle", "font": "Liberation Sans", "fontSize": 16, "fontWeight": "bold", "color": "black"},
"encoding": {
"x": {"field": "r", "type": "quantitative", "axis": null},
"y": {"field": "u", "type": "quantitative", "axis": null},
"text": {"field": "txt"}
}
}
],
"resolve": {"axis": {"x": "independent", "y": "independent"}, "scale": {"color": "independent"}}
},
{
"width": 375, "height": 379,
"layer": [
{
"data": {"name": "curves"},
"transform": [{"filter": "indexof(datum.p, 'b') >= 0"}],
"mark": {"type": "line", "strokeWidth": 1.1},
"encoding": {
"x": {"field": "r", "type": "quantitative", "scale": {"domain": [0.2, 2], "nice": false, "zero": false},
"axis": {"orient": "bottom", "values": [0.2,0.3,0.4,0.5,0.6,0.7,0.8,0.9,1,1.1,1.2,1.3,1.4,1.5,1.6,1.7,1.8,1.9,2], "format": ".1~f", "labelExpr": "indexof(['0.2','0.4','0.8','1.2','1.6','2'], datum.label) >= 0 ? datum.label : ''", "labelPadding": 13, "labelFlush": false, "labelOverlap": false, "title": "Radial direction, r (m)", "titleFontSize": 16.5, "titleY": 37, "titleBaseline": "alphabetic"}},
"y": {"field": "u", "type": "quantitative", "scale": {"domain": [-160, 0], "nice": false, "zero": false},
"axis": {"orient": "left", "values": [-160,-155,-150,-145,-140,-135,-130,-125,-120,-115,-110,-105,-100,-95,-90,-85,-80,-75,-70,-65,-60,-55,-50,-45,-40,-35,-30,-25,-20,-15,-10,-5,0], "labelExpr": "datum.value % 20 == 0 ? '' + datum.value : ''", "labelPadding": 16, "labelOverlap": false, "title": "Excess pore water pressure, u (kPa)", "titleFontSize": 17.2, "titleAngle": 270, "titleX": -50, "titleY": 171, "titleAlign": "center", "titleBaseline": "alphabetic"}},
"color": {"field": "t", "type": "nominal", "scale": {"domain": ["100 d","200 d","400 d","600 d","800 d","1000 d"], "range": ["#000000","#ee1c1c","#1515ee","#1f7530","#8c7a1c","#dc6a1e"]}, "legend": null},
"strokeDash": {"field": "m", "type": "nominal", "scale": {"domain": ["Mod-PINN","FEM"], "range": [[1,0],[7,3,1.5,3]]},
"legend": {"orient": "none", "legendX": 20, "legendY": 310, "title": null, "symbolType": "stroke", "symbolSize": 1225, "clipHeight": 16, "symbolStrokeColor": "black", "symbolStrokeWidth": 1.1, "labelFont": "Liberation Sans", "labelFontSize": 16, "labelFontWeight": "bold", "labelColor": "black", "strokeColor": "black", "fillColor": "white", "padding": 8, "rowPadding": 4, "labelOffset": 5}}
}
},
{
"data": {"name": "labels"},
"mark": {"type": "text", "align": "left", "baseline": "middle", "font": "Liberation Sans", "fontSize": 16, "fontWeight": "bold"},
"encoding": {
"x": {"field": "r", "type": "quantitative", "scale": {"domain": [0.2, 2], "nice": false, "zero": false},
"axis": {"orient": "top", "values": [0.2,0.3,0.4,0.5,0.6,0.7,0.8,0.9,1,1.1,1.2,1.3,1.4,1.5,1.6,1.7,1.8,1.9,2], "labels": false, "title": null}},
"y": {"field": "u", "type": "quantitative", "scale": {"domain": [-160, 0], "nice": false, "zero": false},
"axis": {"orient": "right", "values": [-160,-155,-150,-145,-140,-135,-130,-125,-120,-115,-110,-105,-100,-95,-90,-85,-80,-75,-70,-65,-60,-55,-50,-45,-40,-35,-30,-25,-20,-15,-10,-5,0], "labels": false, "title": null}},
"text": {"field": "txt"},
"color": {"field": "t", "type": "nominal", "scale": {"domain": ["100 d","200 d","400 d","600 d","800 d","1000 d"], "range": ["#000000","#e8141c","#1a1ae8","#1e6b2e","#c9a100","#d2651e"]}, "legend": null}
}
},
{
"data": {"values": [{"txt": "(b)", "r": 1.87, "u": -10.6}]},
"mark": {"type": "text", "align": "right", "baseline": "middle", "font": "Liberation Sans", "fontSize": 16, "fontWeight": "bold", "color": "black"},
"encoding": {
"x": {"field": "r", "type": "quantitative", "axis": null},
"y": {"field": "u", "type": "quantitative", "axis": null},
"text": {"field": "txt"}
}
}
],
"resolve": {"axis": {"x": "independent", "y": "independent"}, "scale": {"color": "independent"}}
}
],
"spacing": 81,
"bounds": "flush",
"resolve": {"scale": {"strokeDash": "independent"}, "legend": {"strokeDash": "independent"}},
"config": {
"font": "Liberation Sans",
"view": {"stroke": "#3a3a3a", "strokeWidth": 1.6},
"axis": {"domain": false, "grid": false, "ticks": true, "tickSize": -6, "tickColor": "#3a3a3a", "tickWidth": 1.3, "labelFont": "Liberation Sans", "labelFontSize": 16, "labelFontWeight": "bold", "labelColor": "#000000", "titleFont": "Liberation Sans", "titleFontSize": 16, "titleFontWeight": "bold", "titleColor": "#000000"}
}
}
